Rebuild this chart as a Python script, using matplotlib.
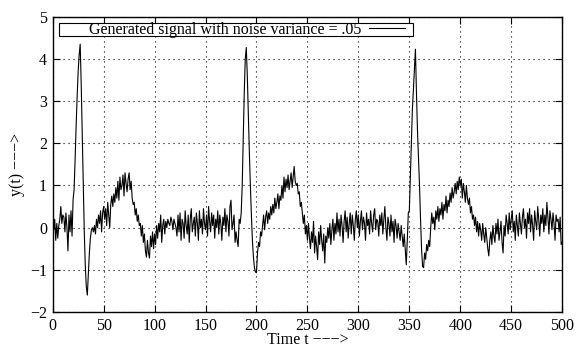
import numpy as np
import matplotlib
matplotlib.use("Agg")
import matplotlib.pyplot as plt
from matplotlib.patches import Rectangle

# noisy signal, one value per time step t = 0..500
y_vals = [
    0.15, -0.05, 0.2, -0.3, 0.1, -0.25, 0.05, 0.2, 0.5, 0.1, 0.3, 0.25, -0.1, 0.35, 0.0, -0.55, 0.3, -0.1, 0.4, -0.2,
    0.65, 0.9, 1.6, 2.4, 3.1, 3.7, 4.1, 4.35, 3.4, 2.2, 1.0, -0.1, -0.9, -1.4, -1.6, -1.1, -0.6, -0.25, -0.05, 0.0,
    -0.1, 0.05, -0.15, 0.2, 0.0, 0.3, 0.1, 0.4, -0.1, 0.35, 0.5, 0.2, 0.45, 0.05, 0.6, 0.3, 0.0, 0.55, 0.75, 0.5,
    0.8, 0.6, 0.95, 0.7, 1.1, 0.65, 1.2, 0.9, 1.0, 1.25, 0.75, 1.3, 1.05, 0.85, 1.15, 1.3, 0.9, 1.1, 0.7, 0.55,
    0.6, 0.3, 0.45, 0.15, 0.3, 0.05, 0.1, -0.2, 0.05, -0.35, -0.15, -0.55, -0.7, -0.3, -0.6, -0.72, -0.2, -0.45, -0.1, -0.5,
    -0.15, -0.4, 0.05, -0.25, 0.1, -0.1, 0.3, -0.35, 0.05, 0.2, -0.15, 0.15, 0.0, 0.2, 0.1, 0.05, 0.25, 0.15, -0.05, 0.2,
    0.1, 0.0, -0.2, 0.3, -0.1, 0.35, -0.3, 0.2, 0.1, -0.25, 0.4, 0.05, -0.15, 0.3, -0.35, 0.2, 0.45, -0.1, 0.1, 0.25,
    -0.2, 0.35, 0.1, -0.3, 0.4, 0.0, 0.2, -0.15, 0.45, 0.1, -0.05, 0.3, -0.2, 0.5, 0.15, -0.1, 0.35, 0.05, 0.3, -0.25,
    0.2, 0.0, 0.4, -0.15, 0.3, 0.1, -0.3, 0.25, 0.05, 0.45, -0.1, 0.3, 0.15, -0.2, 0.5, 0.65, -0.05, 0.1, 0.3, -0.35,
    -0.1, -0.3, -0.45, 0.2, 0.1, 0.35, 1.0, 2.1, 3.2, 4.0, 4.27, 3.6, 2.7, 1.8, 1.0, 0.3, -0.3, -0.7, -0.95, -1.05,
    -1.07, -0.6, -0.35, -0.45, -0.1, -0.2, 0.05, 0.3, -0.05, 0.25, 0.4, 0.1, 0.35, 0.2, 0.5, 0.3, 0.55, 0.35, 0.7, 0.45,
    0.6, 0.8, 0.45, 0.75, 0.65, 1.0, 0.7, 1.2, 0.85, 1.15, 0.95, 1.25, 0.9, 1.1, 1.3, 0.95, 1.2, 1.45, 1.1, 1.0,
    1.05, 0.8, 0.85, 0.5, 0.6, 0.35, 0.1, 0.3, -0.15, 0.05, -0.3, 0.1, -0.25, -0.5, -0.1, -0.35, 0.15, -0.6, -0.2, -0.45,
    -0.76, -0.1, -0.4, 0.05, -0.3, -0.55, -0.15, -0.84, -0.2, -0.35, 0.0, -0.25, 0.1, -0.4, -0.05, 0.2, -0.3, 0.1, -0.15, 0.35,
    -0.1, 0.2, -0.2, 0.3, 0.05, -0.35, 0.15, 0.4, -0.1, 0.25, -0.25, 0.1, 0.35, -0.15, 0.3, 0.05, -0.3, 0.2, 0.4, 0.0,
    0.3, -0.2, 0.15, 0.4, -0.05, 0.25, 0.1, -0.3, 0.35, 0.05, 0.2, -0.15, 0.4, 0.1, -0.1, 0.3, 0.45, -0.05, 0.2, 0.15,
    -0.2, 0.3, 0.05, 0.35, -0.15, 0.2, 0.5, 0.0, -0.3, 0.25, 0.1, -0.2, 0.3, -0.1, 0.15, -0.35, 0.2, 0.05, -0.25, 0.1,
    -0.1, -0.3, 0.05, -0.2, -0.45, -0.15, -0.5, -0.88, -0.3, 0.35, 0.4, 1.2, 1.93, 2.8, 3.27, 3.7, 4.23, 3.2, 2.3, 1.66,
    1.0, 0.2, -0.5, -0.92, -0.95, -0.6, -0.75, -0.4, -0.55, -0.3, -0.45, 0.0, 0.35, 0.1, 0.25, -0.05, 0.4, 0.2, 0.5, 0.15,
    0.45, 0.3, 0.6, 0.2, 0.55, 0.4, 0.75, 0.35, 0.65, 0.5, 0.82, 0.6, 0.95, 0.7, 0.85, 1.05, 0.8, 1.1, 0.9, 1.2,
    1.0, 1.15, 0.7, 1.05, 0.85, 0.6, 1.0, 0.7, 0.55, 0.7, 0.35, 0.5, 0.2, 0.3, 0.05, 0.25, -0.1, 0.15, -0.2, 0.1,
    -0.05, -0.3, 0.1, -0.15, -0.35, 0.0, -0.25, -0.5, -0.67, -0.3, -0.1, -0.4, 0.05, -0.2, -0.35, 0.1, -0.15, 0.2, -0.3, -0.1,
    0.15, -0.35, -0.6, 0.05, -0.2, 0.3, 0.1, -0.15, 0.35, -0.05, 0.2, 0.4, -0.1, 0.15, -0.3, 0.3, 0.05, -0.2, 0.35, 0.1,
    -0.15, 0.25, 0.45, 0.0, 0.2, -0.25, 0.35, 0.1, 0.45, -0.1, 0.3, 0.05, -0.3, 0.4, 0.15, -0.05, 0.5, 0.2, -0.2, 0.3,
    0.1, 0.45, -0.1, 0.3, 0.05, 0.6, 0.25, -0.15, 0.4, 0.2, -0.05, 0.35, 0.1, -0.3, 0.3, 0.15, 0.2, -0.1, 0.25, -0.4,
    -0.35,
]
t_vals = np.arange(len(y_vals))

x_ticks = np.arange(0, 501, 50)
y_ticks = np.arange(-2, 6, 1)
label = "Generated signal with noise variance = .05"
arrow = "\u2212\u2212\u2212>"

plt.rcParams['font.family'] = ['Liberation Serif', 'DejaVu Serif']
plt.rcParams['font.size'] = 11.5

fig = plt.figure(figsize=(5.77, 3.49), dpi=100)
ax = fig.add_axes([0.0913, 0.106, 0.883, 0.846])

ax.plot(t_vals, y_vals, color='black', lw=0.8, label=label)

ax.set_xlim(0, 500)
ax.set_ylim(-2, 5)
ax.set_xticks(x_ticks)
ax.set_yticks(y_ticks)
ax.grid(True, color='black', linestyle=(0, (1, 3.5)), lw=0.8)
ax.tick_params(direction='in', top=True, right=True, length=5, width=0.8, pad=4)
for s in ax.spines.values():
    s.set_linewidth(1.0)

ax.set_xlabel("Time t " + arrow, va='center')
ax.xaxis.set_label_coords(0.5, -0.095)
ax.set_ylabel("y(t) " + arrow)
ax.yaxis.set_label_coords(-0.055, 0.5)

# gnuplot-style key: wide box with the text and line sample inside
ax.add_patch(Rectangle((0.0124, 0.9346), 0.695, 0.0441, transform=ax.transAxes,
                       facecolor='white', edgecolor='black', lw=0.8, zorder=4))
leg = ax.legend(loc='center left', bbox_to_anchor=(0.0713, 0.9567), markerfirst=False,
                frameon=False, borderpad=0.0, handlelength=2.3, handletextpad=0.45,
                borderaxespad=0)
leg.set_zorder(5)

fig.savefig("out.png", dpi=100)
